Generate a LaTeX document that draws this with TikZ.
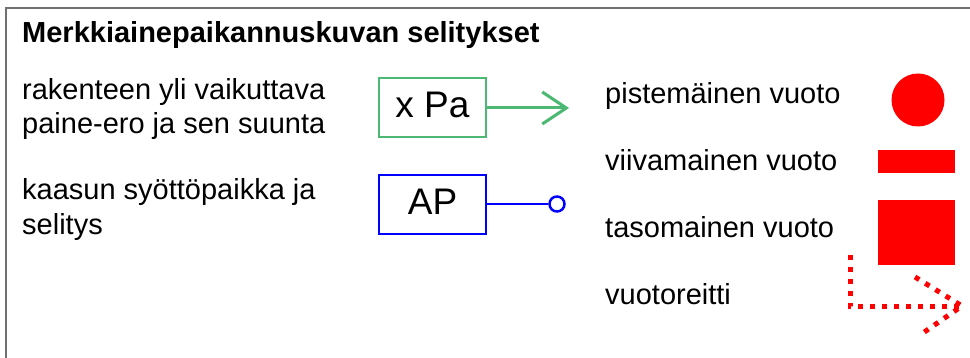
\documentclass[tikz,border=0pt]{standalone}
\usepackage{fontspec}
\setmainfont{Liberation Sans}
\usetikzlibrary{arrows.meta}
\definecolor{legendgreen}{RGB}{76,184,116}
\definecolor{framegray}{RGB}{112,112,112}
\begin{document}
\begin{tikzpicture}[x=1pt,y=-1pt,every node/.style={font=\fontsize{29}{34}\selectfont,inner sep=0pt},
  txt/.style={anchor=base west},
  legbox/.style={draw,line width=2pt,minimum width=107pt,minimum height=59pt,font=\fontsize{37}{40}\selectfont,text height=27pt,text depth=7pt},
  leak/.style={fill=red,draw=none}]
\useasboundingbox (0,0) rectangle (970,358);
\draw[framegray,line width=2pt] (970,8) -- (6,8) -- (6,358);
\node[txt,font=\fontsize{29}{34}\selectfont\bfseries] (title) at (22,43) {Merkkiainepaikannuskuvan selitykset};
% vasen sarake
\node[txt] (pressure) at (22,100) {rakenteen yli vaikuttava};
\node[txt] (pressure2) at (22,134) {paine-ero ja sen suunta};
\node[txt] (feed) at (22,200) {kaasun syöttöpaikka ja};
\node[txt] (feed2) at (22,235) {selitys};
\node[legbox,draw=legendgreen] (pabox) at (432.5,107.5) {x Pa};
\node[legbox,draw=blue] (apbox) at (432.5,204.5) {AP};
\coordinate (patip) at (569,108);
\draw[legendgreen,line width=3pt,-{Straight Barb[length=24pt,width=32pt,line width=3pt]}] (pabox.east |- patip) -- (patip);
\node[draw=blue,circle,line width=2.5pt,minimum size=15pt] (apend) at (557,204) {};
\draw[blue,line width=2.5pt] (apbox.east |- apend) -- (apend.west);
% oikea sarake
\node[txt] (point) at (605,104) {pistemäinen vuoto};
\node[txt] (line) at (605,171) {viivamainen vuoto};
\node[txt] (plane) at (605,238) {tasomainen vuoto};
\node[txt] (route) at (605,305) {vuotoreitti};
\fill[leak] (918,100) circle (26.5);
\fill[leak] (878,150) rectangle (955,173);
\fill[leak] (878,200) rectangle (955,265);
\draw[red,line width=5pt,dash pattern=on 5pt off 7pt] (850,255) -- (850,307) -- (961,307);
\draw[red,line width=5pt,dash pattern=on 5pt off 7pt] (915,277) -- (962,306) -- (920,335);
\end{tikzpicture}
\end{document}
